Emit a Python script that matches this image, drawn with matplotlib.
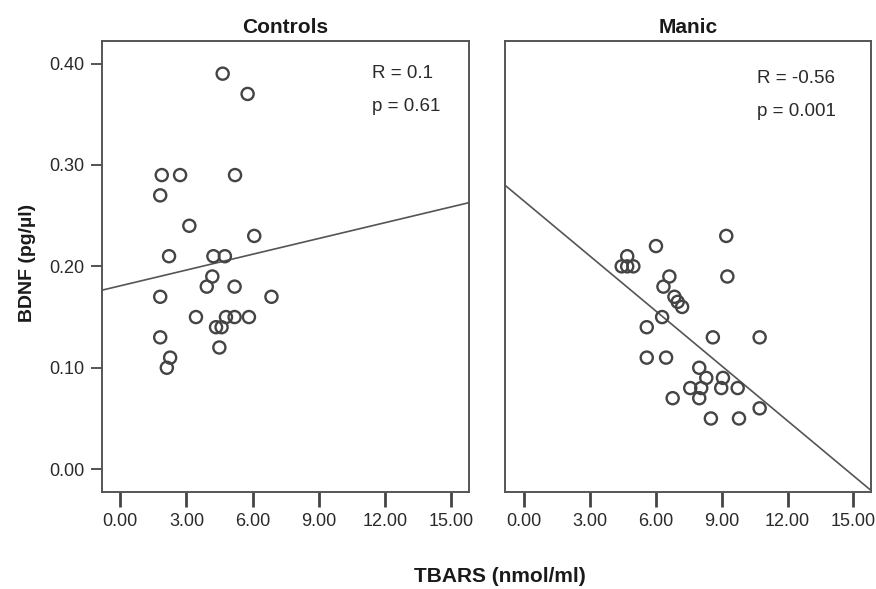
import matplotlib
matplotlib.use("Agg")
import matplotlib.pyplot as plt
import numpy as np

plt.rcParams['font.family'] = ['Liberation Sans', 'DejaVu Sans']

# Controls: TBARS (nmol/ml) vs BDNF (pg/ul)
ctrl_tbars = [4.64, 5.77, 1.88, 2.71, 5.20, 1.81, 3.13, 6.07, 2.21, 4.22, 4.74, 4.17, 3.92,
              5.18, 1.81, 6.85, 3.43, 4.79, 5.18, 5.83, 4.34, 4.59, 1.81, 4.49, 2.26, 2.11]
ctrl_bdnf = [0.39, 0.37, 0.29, 0.29, 0.29, 0.27, 0.24, 0.23, 0.21, 0.21, 0.21, 0.19, 0.18,
             0.18, 0.17, 0.17, 0.15, 0.15, 0.15, 0.15, 0.14, 0.14, 0.13, 0.12, 0.11, 0.10]

# Manic
manic_tbars = [9.21, 6.01, 4.70, 4.45, 4.70, 4.98, 6.62, 9.26, 6.35, 6.85, 7.00, 7.20, 6.29,
               5.59, 8.60, 10.73, 5.59, 6.47, 7.98, 8.30, 9.06, 7.57, 8.07, 8.98, 9.73,
               6.77, 7.98, 10.73, 8.51, 9.79]
manic_bdnf = [0.23, 0.22, 0.21, 0.20, 0.20, 0.20, 0.19, 0.19, 0.18, 0.17, 0.165, 0.16, 0.15,
              0.14, 0.13, 0.13, 0.11, 0.11, 0.10, 0.09, 0.09, 0.08, 0.08, 0.08, 0.08,
              0.07, 0.07, 0.06, 0.05, 0.05]

# fit lines (intercept, slope)
ctrl_fit = (0.1808, 0.00519)
manic_fit = (0.2644, -0.01806)

panel_titles = ["Controls", "Manic"]
stats_text = [("R = 0.1", "p = 0.61"), ("R = -0.56", "p = 0.001")]
xticks = [0, 3, 6, 9, 12, 15]
yticks = [0.0, 0.1, 0.2, 0.3, 0.4]

W, H = 876, 589
fig = plt.figure(figsize=(W / 100, H / 100), dpi=100)
ax1 = fig.add_axes([101.5 / W, 1 - 492 / H, (469 - 101.5) / W, (492 - 40.7) / H])
ax2 = fig.add_axes([505.3 / W, 1 - 492 / H, (871 - 505.3) / W, (492 - 40.7) / H])

datasets = [(ctrl_tbars, ctrl_bdnf, ctrl_fit), (manic_tbars, manic_bdnf, manic_fit)]
text_pos = [(11.4, 0.386, 0.353), (10.6, 0.381, 0.348)]

for i, ax in enumerate([ax1, ax2]):
    xs, ys, fit = datasets[i]
    ax.scatter(xs, ys, s=76, facecolors='none', edgecolors='#444444', linewidths=1.7, zorder=3)
    lx = np.array([-0.85, 15.8])
    ax.plot(lx, fit[0] + fit[1] * lx, color='#555555', lw=1.2, zorder=2)
    ax.set_xlim(-0.85, 15.8)
    ax.set_ylim(-0.0225, 0.4225)
    ax.set_xticks(xticks)
    ax.set_xticklabels(["%.2f" % t for t in xticks])
    ax.tick_params(axis='x', direction='out', length=11, width=2, color='#444444',
                   labelsize=13, labelcolor='#2a2a2a', pad=4)
    for sp in ax.spines.values():
        sp.set_color('#555555')
        sp.set_linewidth(1.4)
    ax.set_title(panel_titles[i], fontsize=15, fontweight='bold', pad=5.5, color='#1a1a1a')
    tx, ry, py = text_pos[i]
    ax.text(tx, ry, stats_text[i][0], fontsize=13.5, color='#2a2a2a', va='baseline')
    ax.text(tx, py, stats_text[i][1], fontsize=13.5, color='#2a2a2a', va='baseline')

ax1.set_yticks(yticks)
ax1.set_yticklabels(["%.2f" % t for t in yticks])
ax1.tick_params(axis='y', direction='out', length=8, width=1.3, color='#444444',
                labelsize=13, labelcolor='#2a2a2a', pad=4)
ax2.set_yticks([])

fig.text(27 / W, 1 - 263 / H, "BDNF (pg/\u00b5l)", rotation=90, fontsize=14, fontweight='bold',
         ha='center', va='center', color='#1a1a1a')
fig.text(500 / W, 1 - 577 / H, "TBARS (nmol/ml)", fontsize=15, fontweight='bold',
         ha='center', va='center', color='#1a1a1a')

fig.savefig("out.png", dpi=100)
